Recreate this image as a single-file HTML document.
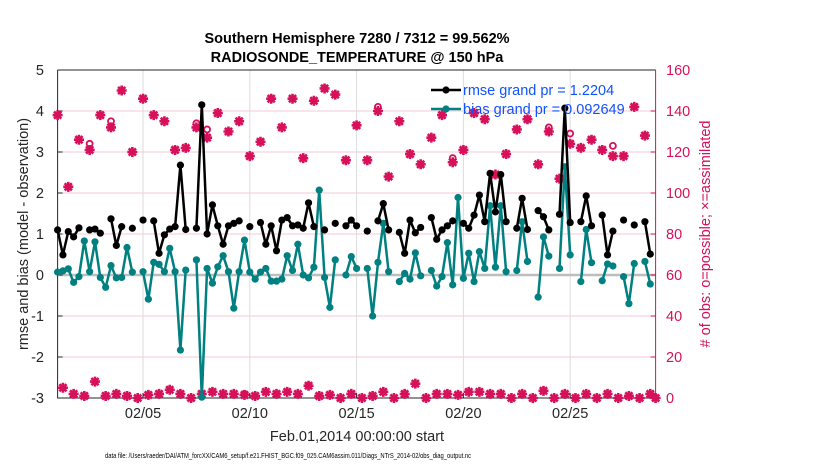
<!DOCTYPE html>
<html><head><meta charset="utf-8"><style>
html,body{margin:0;padding:0;background:#fff;}
svg{display:block;font-family:"Liberation Sans",sans-serif;}
</style></head><body>
<svg id="chart" width="830" height="470" viewBox="0 0 830 470">
<g id="grid"></g>
<g id="axes"></g>
<g id="series"></g>
<text x="357" y="43" text-anchor="middle" font-size="14.5" font-weight="bold">Southern Hemisphere 7280 / 7312 = 99.562%</text>
<text x="357" y="62" text-anchor="middle" font-size="14.5" font-weight="bold">RADIOSONDE_TEMPERATURE @ 150 hPa</text>
<text transform="translate(28,234) rotate(-90)" text-anchor="middle" font-size="14.5" fill="#262626">rmse and bias (model - observation)</text>
<text transform="translate(710,234) rotate(-90)" text-anchor="middle" font-size="14.5" fill="#d6105a"># of obs: o=possible; ×=assimilated</text>
<text x="357" y="441" text-anchor="middle" font-size="14.5" fill="#262626">Feb.01,2014 00:00:00 start</text>
<text x="105" y="458" font-size="7.5" fill="#000" textLength="366" lengthAdjust="spacingAndGlyphs">data file: /Users/raeder/DAI/ATM_forcXX/CAM6_setup/f.e21.FHIST_BGC.f09_025.CAM6assim.011/Diags_NTrS_2014-02/obs_diag_output.nc</text>
<g id="legend"></g>
</svg>
<script>
const NS="http://www.w3.org/2000/svg";
const N=113;
// data arrays (index = 6-hourly slot from Feb 01 00Z)
const rmsePairs=[[0,1.10],[1,0.49],[2,1.06],[3,0.93],[4,1.15],[6,1.10],[7,1.12],[8,1.02],[10,1.37],[11,0.72],[12,1.18],[14,1.14],[16,1.34],[18,1.32],[19,0.53],[20,0.98],[21,1.12],[22,1.18],[23,2.68],[24,1.11],[26,1.14],[27,4.15],[28,1.00],[29,1.71],[30,1.20],[31,0.75],[32,1.20],[33,1.26],[34,1.32],[36,1.18],[38,1.28],[39,0.75],[40,1.20],[41,0.59],[42,1.34],[43,1.40],[44,1.20],[45,1.22],[46,1.14],[47,1.76],[48,1.18],[50,1.10],[52,1.26],[54,1.20],[55,1.34],[56,1.20],[58,1.07],[60,1.32],[61,1.74],[62,1.10],[64,1.04],[65,0.53],[66,1.34],[67,1.03],[68,1.16],[70,1.40],[71,0.87],[72,1.10],[73,1.20],[74,1.32],[76,1.26],[77,1.14],[78,1.46],[79,1.95],[80,1.30],[81,2.48],[82,1.54],[83,2.45],[84,1.30],[86,1.14],[87,1.87],[88,1.11],[90,1.57],[91,1.42],[92,1.10],[94,1.48],[95,4.07],[96,1.28],[98,1.30],[99,1.93],[100,1.20],[102,1.46],[103,0.49],[104,1.07],[106,1.34],[108,1.22],[110,1.30],[111,0.51]];
const biasPairs=[[0,0.07],[1,0.10],[2,0.15],[3,-0.18],[4,-0.04],[5,0.83],[6,0.08],[7,0.81],[8,-0.06],[9,-0.30],[10,0.23],[11,-0.07],[12,-0.06],[13,0.67],[14,0.07],[16,0.08],[17,-0.59],[18,0.31],[19,0.26],[20,0.08],[21,0.65],[22,0.08],[23,-1.83],[24,0.12],[26,0.37],[27,-2.98],[28,0.16],[29,-0.20],[30,0.20],[31,0.47],[32,0.08],[33,-0.81],[34,0.08],[35,0.85],[36,0.07],[37,-0.10],[38,0.07],[39,0.16],[40,-0.15],[41,-0.15],[42,-0.10],[43,0.47],[44,0.11],[45,0.75],[46,0.00],[47,-0.07],[48,0.19],[49,2.07],[50,-0.06],[51,-0.79],[52,0.37],[54,0.00],[55,0.45],[56,0.16],[58,0.16],[59,-1.00],[60,0.31],[61,1.26],[62,0.08],[64,-0.16],[65,0.04],[66,-0.10],[67,0.54],[68,-0.02],[70,0.11],[71,-0.27],[72,-0.04],[73,0.79],[74,-0.24],[75,1.89],[76,-0.08],[77,0.53],[78,-0.16],[79,0.57],[80,0.16],[81,1.69],[82,0.19],[83,1.69],[84,0.08],[86,0.11],[87,1.30],[88,0.33],[90,-0.54],[91,0.93],[92,0.46],[94,0.16],[95,2.64],[96,0.49],[98,-0.16],[99,1.11],[100,0.30],[102,-0.14],[103,0.27],[104,0.22],[106,-0.04],[107,-0.70],[108,0.28],[110,0.33],[111,-0.22]];
const assimPairs=[[0,138],[2,103],[4,126],[6,121],[8,138],[10,132],[12,150],[14,120],[16,146],[18,138],[20,135],[22,121],[24,122],[26,132],[28,127],[30,139],[32,130],[34,135],[36,118],[38,125],[40,146],[42,132],[44,146],[46,117],[48,145],[50,151],[52,148],[54,116],[56,133],[58,116],[60,140],[62,108],[64,135],[66,119],[68,114],[70,127],[72,138],[74,115],[76,121],[78,139],[80,136],[82,109],[84,119],[86,131],[88,136],[90,114],[92,130],[94,107],[96,124],[98,122],[100,126],[102,121],[104,118],[106,118],[108,142],[110,128],
[1,5],[3,2],[5,1],[7,8],[9,1],[11,2],[13,1],[15,0],[17,1.5],[19,2],[21,4],[23,2],[25,0],[27,2],[29,3],[31,2],[33,2],[35,1.5],[37,1],[39,3],[41,2],[43,3],[45,2],[47,6],[49,1],[51,1.5],[53,0],[55,2],[57,0],[59,1],[61,3],[63,0],[65,2],[67,7],[69,0],[71,2],[73,2],[75,1.5],[77,3],[79,3],[81,2],[83,2],[85,0],[87,2],[89,0],[91,3.5],[93,0],[95,2],[97,0],[99,2],[101,0],[103,2],[105,0],[107,1],[109,0],[111,2],[112,0]];
const possibleDiff=[[6,124],[10,135],[26,134],[28,131],[60,142],[74,117],[92,132],[96,129],[104,123],[35,2]];
const xTickLabels=["02/05","02/10","02/15","02/20","02/25"];
const xTickSlots=[16,36,56,76,96];
const leftTicks=[5,4,3,2,1,0,-1,-2,-3];
const rightTicks=[160,140,120,100,80,60,40,20,0];

const X0=57.6,X1=655.6,YT=70,YB=398;
const xs=i=>X0+(X1-X0)*i/(N-1);
const yl=v=>YB-(v+3)/8*(YB-YT);
const yr=c=>YB-c/160*(YB-YT);
function el(tag,attrs,parent){const e=document.createElementNS(NS,tag);for(const k in attrs)e.setAttribute(k,attrs[k]);parent.appendChild(e);return e;}
const grid=document.getElementById('grid'),axes=document.getElementById('axes'),ser=document.getElementById('series'),leg=document.getElementById('legend');

leftTicks.forEach((v,i)=>{
  const y=yl(v);
  if(v>-3&&v<5){const g=el('line',{x1:X0,x2:X1,y1:y,y2:y,stroke:'#f3c9d8','stroke-width':1},grid);
  
  }
  const t=el('text',{x:44,y:y+5,'text-anchor':'end','font-size':14.5,fill:'#262626'},axes);t.textContent=v;
  
  
  el('line',{x1:X0,x2:X0+5,y1:y,y2:y,stroke:'#262626'},axes);
});
rightTicks.forEach(c=>{
  const y=yr(c);
  const t=el('text',{x:666,y:y+5,'font-size':14.5,fill:'#d6105a'},axes);t.textContent=c;
  
  
  el('line',{x1:X1-5,x2:X1,y1:y,y2:y,stroke:'#d6105a'},axes);
});
xTickSlots.forEach((s,i)=>{
  const x=xs(s);
  const g=el('line',{x1:x,x2:x,y1:YT,y2:YB,stroke:'#dcdcdc','stroke-width':1},grid);
  
  
  el('line',{x1:x,x2:x,y1:YB,y2:YB-5,stroke:'#262626'},axes);
  const t=el('text',{x:x,y:418,'text-anchor':'middle','font-size':14.5,fill:'#262626'},axes);t.textContent=xTickLabels[i];
  
  
});
const zl=el('line',{x1:X0,x2:X1,y1:yl(0),y2:yl(0),stroke:'#bdbdbd','stroke-width':2.5},grid);


el('path',{d:`M${X0},${YT}H${X1}M${X0},${YT}V${YB}H${X1}`,stroke:'#262626',fill:'none','stroke-width':1},axes);
el('line',{x1:X1,x2:X1,y1:YT,y2:YB,stroke:'#d6105a','stroke-width':1},axes);

function star(x,y,p,name){
  const g=el('path',{d:`M${x-5},${y}H${x+5}M${x},${y-5}V${y+5}M${x-3.6},${y-3.6}L${x+3.6},${y+3.6}M${x-3.6},${y+3.6}L${x+3.6},${y-3.6}`,stroke:'#d6105a','stroke-width':2.6},p);
  
  
}
assimPairs.forEach(([i,c])=>star(xs(i),yr(c),ser,'assimilated-count-marker'));
possibleDiff.forEach(([i,c])=>{
  const o=el('circle',{cx:xs(i),cy:yr(c),r:3,fill:'none',stroke:'#d6105a','stroke-width':1.8},ser);
  
  
});
function line(pairs,color,name,yf){
  let d='',prev=-5;
  pairs.forEach(([i,v])=>{d+=(i===prev+1?'L':'M')+xs(i).toFixed(1)+','+yf(v).toFixed(1);prev=i;});
  const p=el('path',{d:d,stroke:color,'stroke-width':2.5,fill:'none','stroke-linejoin':'round'},ser);
  
  
  pairs.forEach(([i,v])=>{
    const c=el('circle',{cx:xs(i),cy:yf(v),r:3.6,fill:color},ser);
    
    
  });
}
line(biasPairs,'#008080','bias',yl);
line(rmsePairs,'#000','rmse',yl);

[['#000','rmse grand pr = 1.2204',90],['#008080','bias grand pr = 0.092649',109]].forEach(([c,txt,y])=>{
  el('line',{x1:431,x2:461,y1:y,y2:y,stroke:c,'stroke-width':2.5},leg);
  el('circle',{cx:446,cy:y,r:3.6,fill:c},leg);
  const t=el('text',{x:463,y:y+5,'font-size':14.5,fill:'#0f52ff'},leg);t.textContent=txt;
  
  
});
</script>
</body></html>
